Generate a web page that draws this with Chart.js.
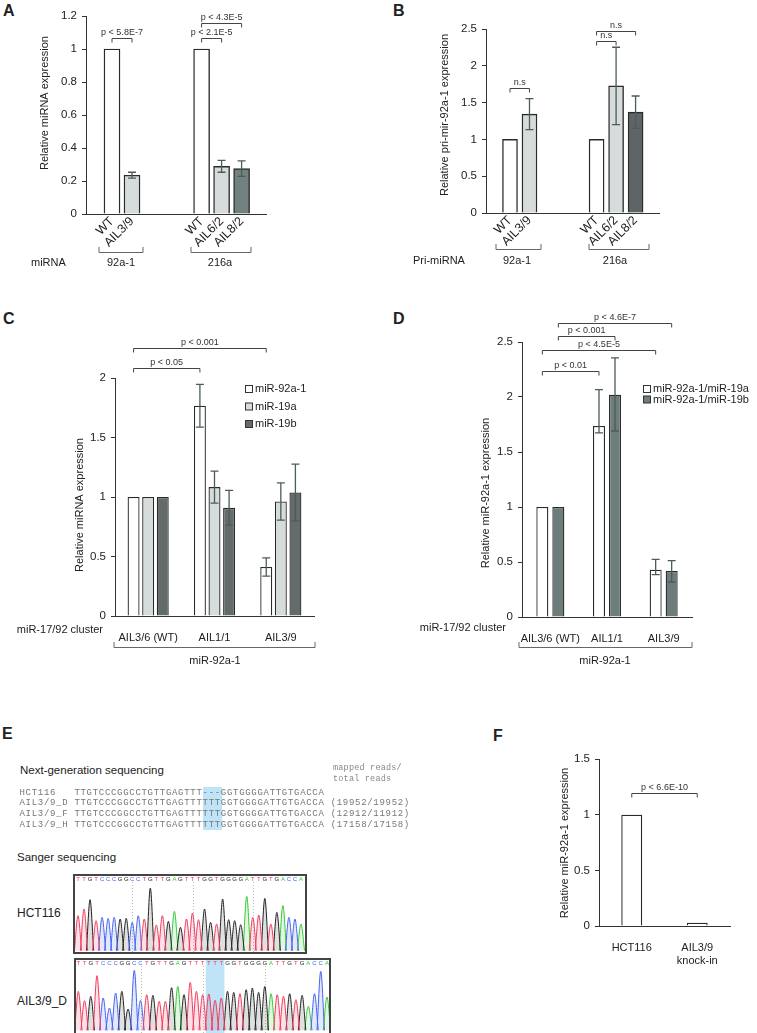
<!DOCTYPE html>
<html lang="en">
<head>
<meta charset="UTF-8" />
<title>miR-92a-1 knock-in</title>
<script src="https://cdn.jsdelivr.net/npm/chart.js"></script>
<style>
  body { margin: 0; background: #fff; font-family: 'Liberation Sans', Arial, sans-serif; color: #222; }
  #fig { position: relative; width: 757px; height: 1033px; overflow: hidden; }
  #fig canvas, #fig .abs { position: absolute; }
  .tag { font-weight: bold; font-size: 16px; line-height: 16px; }
  .lbl { font-size: 11.5px; line-height: 11.5px; white-space: nowrap; }
  .mono { font-family: 'Liberation Mono', monospace; white-space: pre; color: #777; }
  .seq { font-size: 9px; letter-spacing: 0.7px; line-height: 10.7px; }
  .reads { font-size: 8.5px; letter-spacing: 0.2px; line-height: 10.5px; color: #888; }
  .hl { background: #bfe4f7; }
</style>
</head>
<body>
<div id="fig">
  <div class="abs tag" style="left:3px;top:3px">A</div>
  <div class="abs tag" style="left:393px;top:3px">B</div>
  <div class="abs tag" style="left:3px;top:311px">C</div>
  <div class="abs tag" style="left:393px;top:311px">D</div>
  <div class="abs tag" style="left:2px;top:726px">E</div>
  <div class="abs tag" style="left:493px;top:728px">F</div>

  <canvas id="chartA" width="380" height="300" style="left:0;top:0"></canvas>
  <canvas id="chartB" width="377" height="300" style="left:380px;top:0"></canvas>
  <canvas id="chartC" width="380" height="390" style="left:0;top:300px"></canvas>
  <canvas id="chartD" width="377" height="390" style="left:380px;top:300px"></canvas>
  <canvas id="chartF" width="377" height="300" style="left:380px;top:690px"></canvas>

  <div class="abs lbl" style="left:20px;top:765px">Next-generation sequencing</div>
  <div class="abs mono reads" style="left:333px;top:763px">mapped reads/
total reads</div>
  <div class="abs hl" style="left:203px;top:787px;width:19px;height:43px"></div>
  <div class="abs mono seq" id="ngs" style="left:19.5px;top:787.7px"></div>

  <div class="abs lbl" style="left:17px;top:851.5px">Sanger sequencing</div>
  <div class="abs" style="left:17px;top:907px;font-size:12px;line-height:12px">HCT116</div>
  <div class="abs" style="left:17px;top:995px;font-size:12px;line-height:12px">AIL3/9_D</div>
  <canvas id="trace1" width="234" height="80" style="left:73px;top:874px"></canvas>
  <canvas id="trace2" width="257" height="78" style="left:74px;top:958px"></canvas>
</div>

<script>
// ---- A: mature miRNA after knock-in
const catsA = ['WT', 'AIL3/9', 'WT', 'AIL6/2', 'AIL8/2'];
const valsA = [1, 0.235, 1, 0.289, 0.275];
const errA = [0, 0.018, 0, 0.036, 0.047];
const groupsA = ['92a-1', '216a'];

// ---- B: pri-miRNA
const catsB = ['WT', 'AIL3/9', 'WT', 'AIL6/2', 'AIL8/2'];
const valsB = [1, 1.343, 1, 1.727, 1.37];
const errB = [0, 0.21, 0, 0.525, 0.22];
const groupsB = ['92a-1', '216a'];

// ---- C: cluster members
const clustersC = ['AIL3/6 (WT)', 'AIL1/1', 'AIL3/9'];
const seriesC = ['miR-92a-1', 'miR-19a', 'miR-19b'];
const mir92C = [1, 1.767, 0.412];
const mir19aC = [1, 1.083, 0.962];
const mir19bC = [1, 0.909, 1.038];
const err92C = [0, 0.18, 0.077];
const err19aC = [0, 0.135, 0.156];
const err19bC = [0, 0.146, 0.238];

// ---- D: ratios
const clustersD = ['AIL3/6 (WT)', 'AIL1/1', 'AIL3/9'];
const seriesD = ['miR-92a-1/miR-19a', 'miR-92a-1/miR-19b'];
const ratio19aD = [1, 1.736, 0.43];
const ratio19bD = [1, 2.021, 0.418];
const up19aD = [0, 0.331, 0.094];
const down19aD = [0, 0.063, 0.045];
const up19bD = [0, 0.334, 0.094];
const down19bD = [0, 0.33, 0.1];

// ---- F
const catsF = ['HCT116', ['AIL3/9', 'knock-in']];
const valsF = [1, 0.03];

// ---- E: sequences and trace peak heights
const ngsRows = [
  ['HCT116', 'TTGTCCCGGCCTGTTGAGTTT---GGTGGGGATTGTGACCA', ''],
  ['AIL3/9_D', 'TTGTCCCGGCCTGTTGAGTTTTTTGGTGGGGATTGTGACCA', '(19952/19952)'],
  ['AIL3/9_F', 'TTGTCCCGGCCTGTTGAGTTTTTTGGTGGGGATTGTGACCA', '(12912/11912)'],
  ['AIL3/9_H', 'TTGTCCCGGCCTGTTGAGTTTTTTGGTGGGGATTGTGACCA', '(17158/17158)']
];
const seq1 = 'TTGTCCCGGCCTGTTGAGTTTGGTGGGGATTGTGACCA';
const peaks1 = [105,125,153,90,100,97,100,95,97,85,105,95,188,77,105,88,118,70,95,113,
  93,125,85,80,155,93,90,78,163,100,107,157,80,115,135,100,95,80];
const seq2 = 'TTGTCCCGGCCTGTTGAGTTTTTTGGTGGGGATTGTGACCA';
const peaks2 = [117,89,102,164,97,67,112,117,64,180,90,107,105,87,87,128,132,107,144,117,
  107,109,90,97,117,114,110,122,127,114,132,110,107,102,110,92,105,72,110,177,100];

document.getElementById('ngs').textContent = ngsRows
  .map(r => (r[0] + '         ').slice(0, 9) + r[1] + (r[2] ? ' ' + r[2] : '')).join('\n');

Chart.defaults.font.family = "'Liberation Sans', Arial, sans-serif";
Chart.defaults.font.size = 11;
Chart.defaults.color = '#222';
Chart.defaults.animation = false;
Chart.defaults.responsive = false;
Chart.defaults.devicePixelRatio = 1;
Chart.defaults.plugins.legend.display = false;
Chart.defaults.plugins.tooltip.enabled = false;

const WHITE = '#ffffff', LIGHT = '#d6dcdb';
const EDGE = '#2a2a2a', ERR = '#4d5b5b';

// error bars, p-value brackets, braces, free labels, legend
const extras = {
  id: 'extras',
  afterDatasetsDraw(chart, args, o) {
    const ctx = chart.ctx, ys = chart.scales.y;
    ctx.save();
    ctx.lineWidth = 1.3;
    ctx.strokeStyle = ERR;
    chart.data.datasets.forEach((ds, di) => {
      if (!ds.errUp) return;
      chart.getDatasetMeta(di).data.forEach((bar, i) => {
        const up = ds.errUp[i], dn = ds.errDown[i];
        if (!up && !dn) return;
        const d = ds.data[i], v = typeof d === 'object' ? d.y : d;
        const y1 = ys.getPixelForValue(v + up), y2 = ys.getPixelForValue(v - dn);
        ctx.beginPath();
        ctx.moveTo(bar.x, y1); ctx.lineTo(bar.x, y2);
        ctx.moveTo(bar.x - 4, y1); ctx.lineTo(bar.x + 4, y1);
        ctx.moveTo(bar.x - 4, y2); ctx.lineTo(bar.x + 4, y2);
        ctx.stroke();
      });
    });

    const px = p => chart.getDatasetMeta(p[0]).data[p[1]].x;
    ctx.strokeStyle = '#444';
    ctx.lineWidth = 1;
    ctx.fillStyle = '#333';
    ctx.font = "9px 'Liberation Sans', Arial";
    ctx.textAlign = 'center';
    ctx.textBaseline = 'bottom';
    (o.brackets || []).forEach(b => {
      const x1 = px(b.a), x2 = px(b.b), y = Math.round(ys.getPixelForValue(b.y)) + 0.5;
      ctx.beginPath();
      ctx.moveTo(x1, y + 4); ctx.lineTo(x1, y); ctx.lineTo(x2, y); ctx.lineTo(x2, y + 4);
      ctx.stroke();
      ctx.fillText(b.text, (x1 + x2) / 2, y - 1);
    });

    ctx.strokeStyle = '#666';
    (o.braces || []).forEach(b => {
      ctx.beginPath();
      ctx.moveTo(b.x1, b.y - 5); ctx.lineTo(b.x1, b.y + 0.5); ctx.lineTo(b.x2, b.y + 0.5); ctx.lineTo(b.x2, b.y - 5);
      ctx.stroke();
    });

    ctx.fillStyle = '#222';
    ctx.font = "11px 'Liberation Sans', Arial";
    ctx.textBaseline = 'middle';
    (o.texts || []).forEach(t => {
      ctx.save();
      ctx.translate(t.x, t.y);
      if (t.rot) ctx.rotate(-Math.PI / 2);
      ctx.textAlign = t.align || 'center';
      ctx.fillText(t.t, 0, 0);
      ctx.restore();
    });

    if (o.legend) {
      ctx.textAlign = 'left';
      chart.data.datasets.forEach((ds, di) => {
        const y = o.legend.y + di * o.legend.dy;
        ctx.fillStyle = ds.backgroundColor;
        ctx.fillRect(o.legend.x, y - 3.5, 7, 7);
        ctx.strokeStyle = '#333';
        ctx.strokeRect(o.legend.x + 0.5, y - 3.5, 7, 7);
        ctx.fillStyle = '#222';
        ctx.fillText(ds.label, o.legend.x + 10, y);
      });
    }
    ctx.restore();
  }
};

function yAxis(max, step, width) {
  return {
    min: 0, max,
    ticks: { stepSize: step, padding: 5, color: '#222', font: { size: 11.5 },
      callback: v => String(+v.toFixed(2)) },
    grid: { display: true, drawOnChartArea: false, drawTicks: true, tickLength: 4, color: '#333' },
    border: { display: true, color: '#333', width: 1 },
    afterFit: s => { s.width = width; }
  };
}

function slotAxis(min, max, slots, cats, height) {
  return {
    type: 'linear', min, max, offset: false,
    afterBuildTicks: s => { s.ticks = slots.map(v => ({ value: v })); },
    ticks: { autoSkip: false, minRotation: 45, maxRotation: 45, padding: -8, font: { size: 12.5 },
      callback: (v, i) => cats[i] },
    grid: { display: false },
    border: { display: true, color: '#333', width: 1 },
    afterFit: s => { s.height = height; }
  };
}

function catAxis(height, pad) {
  return {
    ticks: { padding: pad, autoSkip: false, maxRotation: 0 },
    grid: { display: false },
    border: { display: true, color: '#333', width: 1 },
    afterFit: s => { s.height = height; }
  };
}

// ---- A
const slotA = [1.3, 2.3, 5.78, 6.78, 7.78];
new Chart(document.getElementById('chartA'), {
  type: 'bar',
  data: { datasets: [{
    data: catsA.map((c, i) => ({ x: slotA[i], y: valsA[i] })),
    backgroundColor: [WHITE, LIGHT, WHITE, LIGHT, '#728280'],
    borderColor: EDGE, borderWidth: 1.4, barThickness: 16,
    errUp: errA, errDown: errA
  }] },
  options: {
    layout: { padding: { left: 46, top: 16, right: 114, bottom: 0 } },
    scales: { x: slotAxis(0, 9, slotA, catsA, 86), y: yAxis(1.2, 0.2, 40) },
    plugins: { extras: {
      brackets: [
        { a: [0, 0], b: [0, 1], y: 1.065, text: 'p < 5.8E-7' },
        { a: [0, 2], b: [0, 4], y: 1.156, text: 'p < 4.3E-5' },
        { a: [0, 2], b: [0, 3], y: 1.065, text: 'p < 2.1E-5' }
      ],
      braces: [{ x1: 99, x2: 143, y: 252 }, { x1: 191, x2: 251, y: 252 }],
      texts: [
        { t: 'Relative miRNA expression', x: 45, y: 103, rot: true },
        { t: 'miRNA', x: 31, y: 263, align: 'left' },
        { t: groupsA[0], x: 121, y: 263 },
        { t: groupsA[1], x: 220, y: 263 }
      ]
    } }
  },
  plugins: [extras]
});

// ---- B
const slotB = [1.23, 2.23, 5.67, 6.67, 7.67];
new Chart(document.getElementById('chartB'), {
  type: 'bar',
  data: { datasets: [{
    data: catsB.map((c, i) => ({ x: slotB[i], y: valsB[i] })),
    backgroundColor: [WHITE, LIGHT, WHITE, LIGHT, '#5e6566'],
    borderColor: EDGE, borderWidth: 1.4, barThickness: 15,
    errUp: errB, errDown: errB
  }] },
  options: {
    layout: { padding: { left: 66, top: 29, right: 98, bottom: 0 } },
    scales: { x: slotAxis(0, 8.87, slotB, catsB, 87), y: yAxis(2.5, 0.5, 40) },
    plugins: { extras: {
      brackets: [
        { a: [0, 0], b: [0, 1], y: 1.70, text: 'n.s' },
        { a: [0, 2], b: [0, 4], y: 2.47, text: 'n.s' },
        { a: [0, 2], b: [0, 3], y: 2.34, text: 'n.s' }
      ],
      braces: [{ x1: 116, x2: 161, y: 249 }, { x1: 209, x2: 269, y: 249 }],
      texts: [
        { t: 'Relative pri-mir-92a-1 expression', x: 65, y: 115, rot: true },
        { t: 'Pri-miRNA', x: 33, y: 261, align: 'left' },
        { t: groupsB[0], x: 137, y: 261 },
        { t: groupsB[1], x: 235, y: 261 }
      ]
    } }
  },
  plugins: [extras]
});

// ---- C
new Chart(document.getElementById('chartC'), {
  type: 'bar',
  data: {
    labels: clustersC,
    datasets: [
      { label: seriesC[0], data: mir92C, backgroundColor: WHITE, errUp: err92C, errDown: err92C },
      { label: seriesC[1], data: mir19aC, backgroundColor: LIGHT, errUp: err19aC, errDown: err19aC },
      { label: seriesC[2], data: mir19bC, backgroundColor: '#646b6b', errUp: err19bC, errDown: err19bC }
    ].map(d => Object.assign(d, { borderColor: EDGE, borderWidth: 1.3, barPercentage: 0.82, categoryPercentage: 0.66 }))
  },
  options: {
    layout: { padding: { left: 75, top: 78, right: 66, bottom: 0 } },
    scales: { x: catAxis(74, 7), y: yAxis(2, 0.5, 40) },
    plugins: { extras: {
      brackets: [
        { a: [0, 0], b: [0, 2], y: 2.25, text: 'p < 0.001' },
        { a: [0, 0], b: [0, 1], y: 2.08, text: 'p < 0.05' }
      ],
      braces: [{ x1: 114, x2: 315, y: 347 }],
      legend: { x: 245, y: 89, dy: 17.5 },
      texts: [
        { t: 'Relative miRNA expression', x: 80, y: 205, rot: true },
        { t: 'miR-17/92 cluster', x: 103, y: 330, align: 'right' },
        { t: 'miR-92a-1', x: 215, y: 361 }
      ]
    } }
  },
  plugins: [extras]
});

// ---- D
new Chart(document.getElementById('chartD'), {
  type: 'bar',
  data: {
    labels: clustersD,
    datasets: [
      { label: seriesD[0], data: ratio19aD, backgroundColor: WHITE, errUp: up19aD, errDown: down19aD },
      { label: seriesD[1], data: ratio19bD, backgroundColor: '#6d7d7b', errUp: up19bD, errDown: down19bD }
    ].map(d => Object.assign(d, { borderColor: EDGE, borderWidth: 1.3, barPercentage: 0.75, categoryPercentage: 0.565 }))
  },
  options: {
    layout: { padding: { left: 102, top: 42, right: 65, bottom: 0 } },
    scales: { x: catAxis(73, 7), y: yAxis(2.5, 0.5, 40) },
    plugins: { extras: {
      brackets: [
        { a: [1, 0], b: [1, 2], y: 2.673, text: 'p < 4.6E-7' },
        { a: [1, 0], b: [1, 1], y: 2.555, text: 'p < 0.001' },
        { a: [0, 0], b: [0, 2], y: 2.427, text: 'p < 4.5E-5' },
        { a: [0, 0], b: [0, 1], y: 2.236, text: 'p < 0.01' }
      ],
      braces: [{ x1: 139, x2: 312, y: 347 }],
      legend: { x: 263, y: 89, dy: 10.5 },
      texts: [
        { t: 'Relative miR-92a-1 expression', x: 106, y: 193, rot: true },
        { t: 'miR-17/92 cluster', x: 126, y: 328, align: 'right' },
        { t: 'miR-92a-1', x: 225, y: 361 }
      ]
    } }
  },
  plugins: [extras]
});

// ---- F
new Chart(document.getElementById('chartF'), {
  type: 'bar',
  data: {
    labels: catsF,
    datasets: [{ data: valsF, backgroundColor: WHITE, borderColor: EDGE, borderWidth: 1.4,
      barPercentage: 0.32, categoryPercentage: 1 }]
  },
  options: {
    layout: { padding: { left: 179, top: 69, right: 27, bottom: 0 } },
    scales: { x: catAxis(64, 7), y: yAxis(1.5, 0.5, 40) },
    plugins: { extras: {
      brackets: [{ a: [0, 0], b: [0, 1], y: 1.198, text: 'p < 6.6E-10' }],
      texts: [{ t: 'Relative miR-92a-1 expression', x: 185, y: 153, rot: true }]
    } }
  },
  plugins: [extras]
});

// ---- E: Sanger traces
const BASE_COL = { A: '#37c837', C: '#4463ee', G: '#222222', T: '#ee3a5c' };
const BASE_FILL = { A: 'rgba(55,200,55,0.15)', C: 'rgba(68,99,238,0.15)', G: 'rgba(0,0,0,0.12)', T: 'rgba(238,58,92,0.15)' };

function peakPoints(seq, h, base) {
  const pts = [];
  for (let i = 0; i < seq.length; i++) {
    if (seq[i] !== base) continue;
    const x = i + 1;
    pts.push({ x: x - 0.6, y: 0 }, { x, y: h[i] }, { x: x + 0.6, y: 0 }, { x: x + 0.6, y: null });
  }
  return pts;
}

const traceDeco = {
  id: 'traceDeco',
  beforeDatasetsDraw(chart, args, o) {
    const ctx = chart.ctx, xs = chart.scales.x, a = chart.chartArea;
    ctx.save();
    if (o.mark) {
      ctx.fillStyle = '#bfe4f7';
      const x1 = xs.getPixelForValue(o.mark[0]), x2 = xs.getPixelForValue(o.mark[1]);
      ctx.fillRect(x1, a.top, x2 - x1, a.bottom - a.top);
    }
    ctx.strokeStyle = '#bbb';
    ctx.setLineDash([1, 2]);
    o.grid.forEach(g => {
      const x = Math.round(xs.getPixelForValue(g)) + 0.5;
      ctx.beginPath(); ctx.moveTo(x, a.top + 8); ctx.lineTo(x, a.bottom); ctx.stroke();
    });
    ctx.restore();
  },
  afterDraw(chart, args, o) {
    const ctx = chart.ctx, xs = chart.scales.x;
    ctx.save();
    ctx.font = "6px 'Liberation Sans', Arial";
    ctx.textAlign = 'center';
    ctx.textBaseline = 'top';
    for (let i = 0; i < o.seq.length; i++) {
      ctx.fillStyle = BASE_COL[o.seq[i]];
      ctx.fillText(o.seq[i], xs.getPixelForValue(i + 1), 2);
    }
    ctx.strokeStyle = '#444';
    ctx.lineWidth = 2;
    ctx.strokeRect(1, 1, chart.width - 2, chart.height - 2);
    ctx.restore();
  }
};

function trace(id, seq, peaks, xmin, xmax, ymin, ymax, grid, mark) {
  new Chart(document.getElementById(id), {
    type: 'line',
    data: {
      datasets: ['T', 'C', 'G', 'A'].map(b => ({
        data: peakPoints(seq, peaks, b),
        borderColor: BASE_COL[b], backgroundColor: BASE_FILL[b],
        borderWidth: 1, pointRadius: 0, fill: 'origin',
        cubicInterpolationMode: 'monotone', spanGaps: false
      }))
    },
    options: {
      layout: { padding: 0 },
      scales: {
        x: { type: 'linear', display: false, min: xmin, max: xmax },
        y: { display: false, min: ymin, max: ymax }
      },
      plugins: { traceDeco: { seq, grid, mark } }
    },
    plugins: [traceDeco]
  });
}

trace('trace1', seq1, peaks1, 0.17, 39, -10, 230, [10, 20, 30], null);
trace('trace2', seq2, peaks2, 0.3, 41.65, -17, 217, [11, 21, 31], [21.5, 24.5]);
</script>
</body>
</html>
